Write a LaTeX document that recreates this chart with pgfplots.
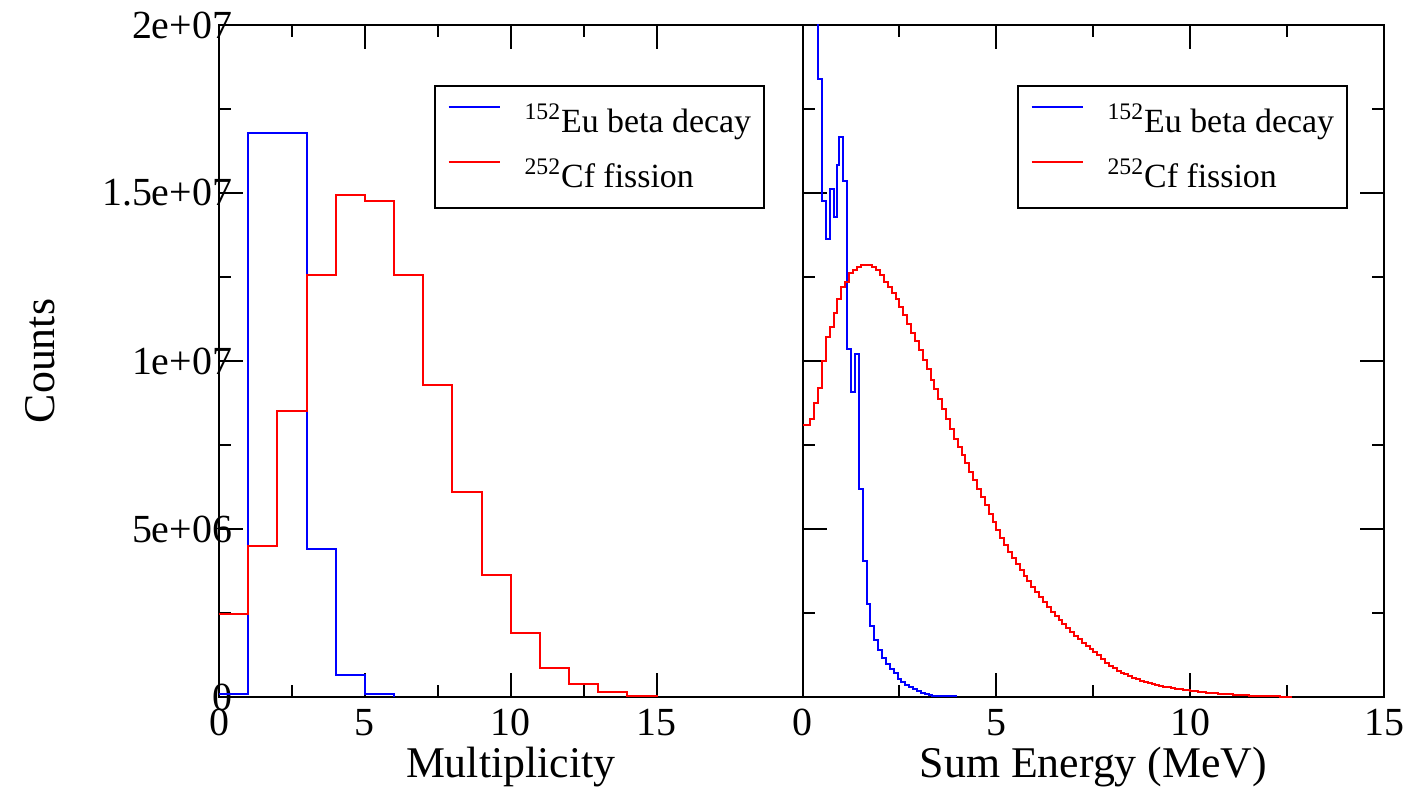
\documentclass[border=0pt]{standalone}
\usepackage{fontspec}
\setmainfont{Liberation Serif}
\usepackage{pgfplots}
\pgfplotsset{compat=1.18}
\definecolor{gblue}{RGB}{0,0,255}
\definecolor{gred}{RGB}{255,0,0}
\begin{document}
\begin{tikzpicture}
\path[use as bounding box] (-109.5bp,-51bp) rectangle (596.5bp,348.5bp);
\pgfplotsset{
  myax/.style={
    scale only axis, height=336bp,
    ymin=0, ymax=2e7,
    axis line style={line width=1bp},
    every tick/.style={black, line width=1bp},
    tick align=inside,
    major tick length=12bp, minor tick length=6bp,
    xtick={0,5,10,15}, xticklabels={0,5,10,15},
    minor x tick num=1,
    ytick={0,5e6,1e7,1.5e7,2e7},
    minor y tick num=1,
    scaled y ticks=false,
    tick label style={font=\fontsize{20}{20}\selectfont},
    x tick label style={anchor=base, yshift=-19bp},
    y tick label style={xshift=10bp},
    every axis x label/.style={at={(axis description cs:0.5,-0.1205)}, anchor=base, font=\fontsize{22}{22}\selectfont},
    every axis y label/.style={at={(axis description cs:-0.307,0.5)}, anchor=center, rotate=90, font=\fontsize{22}{22}\selectfont},
    legend cell align=left,
    legend image code/.code={\draw[##1, line width=1bp] (0bp,6.5bp) -- (25.8bp,6.5bp);},
    legend style={
      anchor=north west,
      draw=black, line width=1bp, fill=white,
      inner xsep=6.3bp, inner ysep=3bp,
      row sep=0pt, column sep=11.7bp,
      nodes={inner sep=0pt, minimum height=27.5bp},
      font=\fontsize{17}{17}\selectfont,
    },
    const plot mark left,
  }
}
% ---------------- left panel: multiplicity ----------------
\begin{axis}[myax,
  width=291.75bp,
  xmin=0, xmax=20,
  ytick pos=left,
  yticklabels={0,5e+06,1e+07,1.5e+07,2e+07},
  xlabel={Multiplicity},
  ylabel={Counts},
  legend style={at={(axis description cs:0.3685,0.9107)}},
]
\addplot[gblue, line width=1bp] coordinates {
(0,1.0e5) (1,1.679e7) (3,4.40e6) (4,6.4e5) (5,1.0e5) (6,0)
};
\addlegendentry{\textsuperscript{152}Eu beta decay\hspace{2.5bp}}
\addplot[gred, line width=1bp] coordinates {
(0,2.48e6) (1,4.50e6) (2,8.50e6) (3,1.256e7) (4,1.494e7) (5,1.477e7)
(6,1.256e7) (7,9.29e6) (8,6.11e6) (9,3.62e6) (10,1.90e6) (11,8.6e5)
(12,4.0e5) (13,1.5e5) (14,3.0e4) (15,0)
};
\addlegendentry{\textsuperscript{252}Cf fission}
\end{axis}
% ---------------- right panel: sum energy ----------------
\begin{axis}[myax, xshift=291.75bp,
  width=290.9bp,
  xmin=0, xmax=15,
  ytick pos=both,
  yticklabels={},
  xlabel={Sum Energy (MeV)},
  legend style={at={(axis description cs:0.3687,0.9107)}},
]
\addplot[gblue, line width=1bp] coordinates {
(0,2.5e7) (0.4,1.839e7) (0.5,1.476e7) (0.6,1.362e7) (0.7,1.511e7) (0.8,1.428e7)
(0.9,1.583e7) (0.95,1.667e7) (1.05,1.536e7) (1.15,1.036e7) (1.25,9.09e6)
(1.35,1.022e7) (1.45,6.19e6) (1.55,4.04e6) (1.65,2.78e6) (1.75,2.11e6)
(1.85,1.71e6) (1.95,1.41e6) (2.05,1.17e6) (2.15,9.9e5) (2.25,8.2e5)
(2.35,7.0e5) (2.45,5.5e5) (2.55,4.5e5) (2.65,3.7e5) (2.75,3.0e5)
(2.85,2.4e5) (2.95,1.8e5) (3.05,1.3e5) (3.15,9.0e4) (3.25,7.0e4)
(3.35,3.0e4) (3.95,0)
};
\addlegendentry{\textsuperscript{152}Eu beta decay\hspace{2.5bp}}
\addplot[gred, line width=1bp] table[y expr=\thisrow{v}*1e6] {
x v
0.0 8.10
0.1 8.10
0.2 8.26
0.3 8.74
0.4 9.21
0.5 10.00
0.6 10.71
0.7 11.00
0.8 11.42
0.9 11.84
1.0 12.19
1.1 12.36
1.2 12.63
1.3 12.71
1.4 12.79
1.5 12.86
1.6 12.86
1.7 12.86
1.8 12.79
1.9 12.71
2.0 12.55
2.1 12.36
2.2 12.19
2.3 12.01
2.4 11.84
2.5 11.60
2.6 11.36
2.7 11.10
2.8 10.84
2.9 10.60
3.0 10.33
3.1 10.03
3.2 9.76
3.3 9.43
3.4 9.16
3.5 8.86
3.6 8.56
3.7 8.26
3.8 7.97
3.9 7.67
4.0 7.45
4.1 7.20
4.2 6.95
4.3 6.70
4.4 6.45
4.5 6.20
4.6 5.95
4.7 5.70
4.8 5.45
4.9 5.20
5.0 4.96
5.1 4.74
5.2 4.52
5.3 4.32
5.4 4.13
5.5 3.95
5.6 3.78
5.7 3.61
5.8 3.44
5.9 3.28
6.0 3.12
6.1 2.97
6.2 2.82
6.3 2.68
6.4 2.54
6.5 2.41
6.6 2.28
6.7 2.16
6.8 2.04
6.9 1.93
7.0 1.82
7.1 1.72
7.2 1.62
7.3 1.52
7.4 1.43
7.5 1.34
7.6 1.24
7.7 1.14
7.8 1.02
7.9 0.92
8.0 0.85
8.1 0.77
8.2 0.71
8.3 0.68
8.4 0.63
8.5 0.58
8.6 0.53
8.7 0.49
8.8 0.45
8.9 0.42
9.0 0.39
9.1 0.36
9.2 0.33
9.3 0.31
9.4 0.29
9.5 0.27
9.6 0.25
9.7 0.23
9.8 0.22
9.9 0.20
10.0 0.18
10.1 0.17
10.2 0.15
10.3 0.14
10.4 0.13
10.5 0.12
10.6 0.11
10.7 0.10
10.8 0.09
10.9 0.08
11.0 0.08
11.1 0.07
11.2 0.07
11.3 0.06
11.4 0.05
11.5 0.04
11.6 0.04
11.7 0.03
11.8 0.03
11.9 0.03
12.0 0.02
12.1 0.02
12.2 0.02
12.3 0.01
12.4 0.01
12.5 0.01
12.6 0.00
};
\addlegendentry{\textsuperscript{252}Cf fission}
\end{axis}
\end{tikzpicture}
\end{document}
